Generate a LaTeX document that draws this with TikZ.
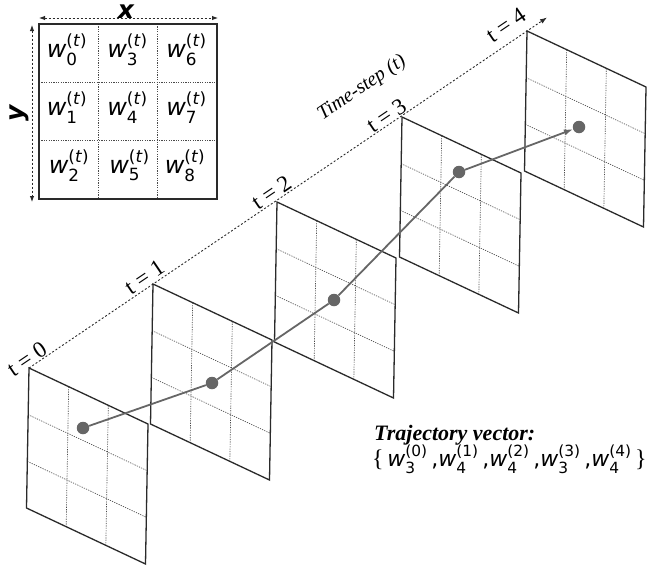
\documentclass[tikz,border=0pt]{standalone}
\usepackage{amsmath}
\usepackage{fontspec}
\setmainfont{Liberation Serif}
\newfontfamily\djs{DejaVu Sans}
\usetikzlibrary{arrows.meta}
\definecolor{edgec}{HTML}{2A2A2A}
\definecolor{trajc}{HTML}{666666}
\definecolor{gridc}{HTML}{4A4A4A}
\newcommand\ww[2]{\text{\itshape w}^{\text{(#2)}}_{\text{#1}}}
\begin{document}
\begin{tikzpicture}[x=1pt,y=-1pt,
  panel/.style={draw=edgec,line width=1.3pt,line join=miter},
  gridl/.style={draw=gridc,line width=0.65pt,dash pattern=on 1.2pt off 1.2pt},
  trajl/.style={draw=trajc,line width=1.8pt},
  dot/.style={circle,fill=trajc,inner sep=0pt,minimum size=12.5pt},
  axisl/.style={draw=edgec,line width=0.9pt,dash pattern=on 2pt off 2pt},
  dimarrow/.style={draw=edgec,line width=0.9pt,dash pattern=on 2pt off 2pt,{Latex[length=6pt,width=4.5pt]}-{Latex[length=6pt,width=4.5pt]}},
  tlab/.style={rotate=34.08,inner sep=0pt,font=\fontsize{23}{25}\selectfont},
  wcell/.style={inner sep=0pt,font=\djs\fontsize{24}{28}\selectfont}
]
\useasboundingbox (0,0) rectangle (652,570);
% panels
\foreach \i/\cx/\cy in {0/29/368, 1/153/284, 2/277/202, 3/402/117, 4/527/31}{
  \coordinate (p\i) at (\cx,\cy);
  \begin{scope}[shift={(\cx,\cy)}]
    \foreach \k in {1,2}{
      \draw[gridl] (119*\k/3,56*\k/3) -- ++(-2.5,140);
      \draw[gridl] (-2.5*\k/3,140*\k/3) -- ++(119,56);
    }
    \draw[panel] (0,0) -- (119,56) -- (116.5,196) -- (-2.5,140) -- cycle;
  \end{scope}
}
% time axis
\coordinate (axend) at (547,17.5);
\draw[axisl,-{Latex[length=7pt,width=5pt]}] (p0) -- (axend);
\node[tlab] (t0) at (27,359) {t = 0};
\node[tlab] (t1) at (144.5,277) {t = 1};
\node[tlab] (t2) at (271.5,192.5) {t = 2};
\node[tlab] (t3) at (386.5,115.5) {t = 3};
\node[tlab] (t4) at (506,25) {t = 4};
\node[tlab,font=\itshape\fontsize{20}{22}\selectfont] (ts) at (362,88) {Time-step (t)};
% trajectory
\node[dot] (d0) at (83,428) {};
\node[dot] (d1) at (212,383) {};
\node[dot] (d2) at (334,300) {};
\node[dot] (d3) at (459,172) {};
\node[dot] (d4) at (579,127) {};
\draw[trajl] (d0) -- (d1) -- (d2) -- (d3);
\draw[trajl,-{Latex[length=9pt,width=6.5pt]}] (d3) -- (d4);
% inset
\draw[gridl] (98.3,24) -- (98.3,199);
\draw[gridl] (157.7,24) -- (157.7,199);
\draw[gridl] (39,82.3) -- (217,82.3);
\draw[gridl] (39,140.7) -- (217,140.7);
\draw[panel] (39,24) rectangle (217,199);
\node[wcell] (c0) at (67,50) {$\ww{0}{\textit{t}}$};
\node[wcell] (c3) at (127.5,50) {$\ww{3}{\textit{t}}$};
\node[wcell] (c6) at (186.5,50) {$\ww{6}{\textit{t}}$};
\node[wcell] (c1) at (67,107.5) {$\ww{1}{\textit{t}}$};
\node[wcell] (c4) at (127.5,107.5) {$\ww{4}{\textit{t}}$};
\node[wcell] (c7) at (186.5,107.5) {$\ww{7}{\textit{t}}$};
\node[wcell] (c2) at (69,165.5) {$\ww{2}{\textit{t}}$};
\node[wcell] (c5) at (129.5,165.5) {$\ww{5}{\textit{t}}$};
\node[wcell] (c8) at (185,165.5) {$\ww{8}{\textit{t}}$};
\coordinate (xa) at (39,18);
\coordinate (xb) at (218,18);
\draw[dimarrow] (xa) -- (xb);
\node[inner sep=0pt,font=\djs\bfseries\itshape\fontsize{25}{27}\selectfont] (xl) at (126,12) {x};
\coordinate (ya) at (32,25);
\coordinate (yb) at (32,202);
\draw[dimarrow] (ya) -- (yb);
\node[inner sep=0pt,rotate=90,font=\djs\bfseries\itshape\fontsize{25}{27}\selectfont] (yl) at (19,113) {y};
% trajectory vector
\node[anchor=base west,inner sep=0pt,font=\bfseries\itshape\fontsize{22}{24}\selectfont] (tv) at (374,440) {Trajectory vector:};
\node[anchor=base west,inner sep=0pt,font=\djs\fontsize{22}{26}\selectfont] (set) at (372,466)
  {{\rmfamily\fontsize{24}{26}\selectfont\{}\,$\ww{3}{0}$\,,$\ww{4}{1}$\,,$\ww{4}{2}$\,,$\ww{3}{3}$\,,$\ww{4}{4}$\,{\rmfamily\fontsize{24}{26}\selectfont\}}};
\end{tikzpicture}
\end{document}
